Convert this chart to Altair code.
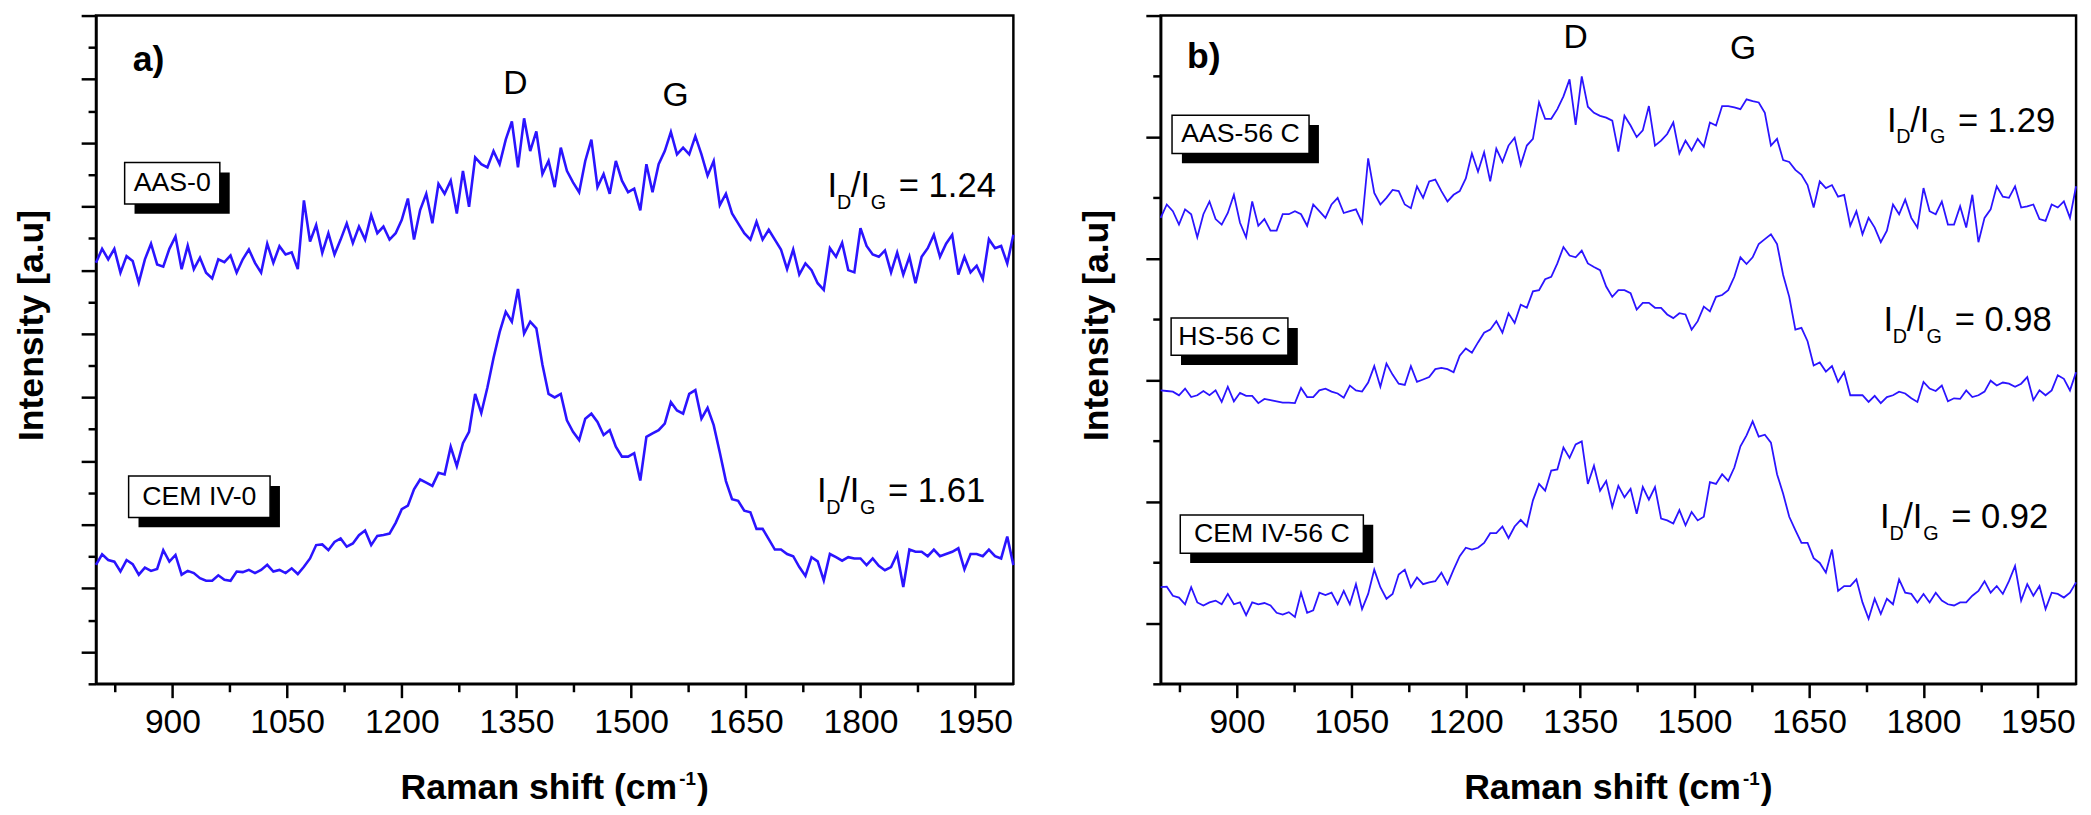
import altair as alt
import pandas as pd

BLUE = "#2b14ff"
TEXT_FONT = "Liberation Sans, Arial, sans-serif"

# Raman shift grid (cm-1) shared by all spectra
WAVENUMBER = list(range(800, 2001, 8))
X_TICKS = list(range(825, 1951, 75))

# panel a) spectra (arbitrary intensity units)
AAS_0 = [
    13.23, 13.67, 13.34, 13.67, 12.92, 13.44, 13.29, 12.61, 13.34, 13.83,
    13.18, 13.11, 13.67, 14.06, 13.03, 13.77, 13.03, 13.39, 12.92, 12.74,
    13.34, 13.25, 13.46, 12.92, 13.34, 13.65, 13.23, 12.92, 13.83, 13.23,
    13.75, 13.49, 13.56, 13.03, 15.19, 13.90, 14.42, 13.54, 14.16, 13.49,
    13.96, 14.47, 13.85, 14.37, 13.96, 14.73, 14.16, 14.37, 13.96, 14.16,
    14.58, 15.25, 13.96, 14.89, 15.40, 14.47, 15.71, 15.40, 15.81, 14.78,
    16.12, 14.99, 16.54, 16.33, 16.23, 16.74, 16.33, 17.10, 17.67, 16.23,
    17.77, 16.74, 17.36, 16.02, 16.43, 15.61, 16.85, 16.12, 15.76, 15.45,
    16.43, 17.10, 15.61, 16.02, 15.40, 16.43, 15.81, 15.45, 15.56, 14.88,
    16.33, 15.45, 16.33, 16.74, 17.34, 16.64, 16.85, 16.64, 17.21, 16.64,
    15.97, 16.43, 15.04, 15.40, 14.78, 14.47, 14.16, 13.96, 14.52, 13.96,
    14.27, 13.96, 13.65, 13.03, 13.65, 12.86, 13.21, 13.00, 12.59, 12.38,
    13.69, 13.42, 13.86, 13.00, 12.93, 14.32, 13.76, 13.49, 13.42, 13.62,
    12.93, 13.55, 12.86, 13.42, 12.59, 13.42, 13.69, 14.11, 13.42, 13.83,
    14.11, 12.86, 13.42, 12.93, 13.14, 12.72, 13.97, 13.69, 13.76, 13.21,
    14.11,
]
CEM_IV_0 = [
    3.74, 4.07, 3.89, 3.84, 3.53, 3.89, 3.76, 3.43, 3.65, 3.55,
    3.61, 4.20, 3.84, 4.05, 3.43, 3.55, 3.48, 3.32, 3.24, 3.24,
    3.41, 3.27, 3.24, 3.53, 3.51, 3.58, 3.48, 3.58, 3.74, 3.53,
    3.58, 3.48, 3.63, 3.45, 3.68, 3.94, 4.36, 4.38, 4.20, 4.46,
    4.57, 4.31, 4.41, 4.67, 4.82, 4.36, 4.65, 4.68, 4.72, 5.06,
    5.49, 5.60, 6.11, 6.42, 6.32, 6.22, 6.63, 6.58, 7.45, 6.84,
    7.56, 7.92, 9.11, 8.51, 9.31, 10.24, 11.05, 11.69, 11.38, 12.41,
    11.01, 11.38, 11.17, 10.03, 9.11, 9.00, 9.11, 8.28, 7.92, 7.66,
    8.33, 8.49, 8.23, 7.82, 7.97, 7.45, 7.14, 7.14, 7.25, 6.39,
    7.76, 7.87, 7.97, 8.18, 8.85, 8.59, 8.49, 9.11, 9.23, 8.33,
    8.67, 8.13, 7.27, 6.37, 5.80, 5.75, 5.44, 5.39, 4.87, 4.87,
    4.55, 4.22, 4.22, 4.08, 4.01, 3.67, 3.39, 3.98, 3.85, 3.25,
    4.08, 3.98, 3.87, 3.98, 3.94, 3.94, 3.73, 3.94, 3.71, 3.57,
    3.67, 4.08, 3.04, 4.22, 4.15, 4.15, 4.01, 4.22, 4.01, 4.08,
    4.15, 4.26, 3.60, 4.08, 4.08, 4.01, 4.22, 4.01, 3.94, 4.63,
    3.73,
]

# panel b) spectra
AAS_56C = [
    7.67, 7.89, 7.78, 7.56, 7.81, 7.73, 7.35, 7.73, 7.94, 7.65,
    7.56, 7.75, 8.05, 7.59, 7.35, 7.94, 7.54, 7.65, 7.46, 7.46,
    7.73, 7.73, 7.78, 7.73, 7.54, 7.89, 7.78, 7.67, 7.89, 8.00,
    7.75, 7.78, 7.81, 7.59, 8.65, 8.08, 7.89, 8.00, 8.13, 8.11,
    7.89, 7.83, 8.19, 8.00, 8.27, 8.30, 8.11, 7.94, 8.05, 8.11,
    8.32, 8.73, 8.43, 8.75, 8.27, 8.81, 8.59, 8.86, 8.99, 8.54,
    8.86, 8.97, 9.57, 9.30, 9.30, 9.46, 9.67, 9.95, 9.20, 10.00,
    9.50, 9.40, 9.35, 9.32, 9.27, 8.76, 9.35, 9.19, 9.00, 9.11,
    9.51, 8.86, 8.94, 9.05, 9.24, 8.73, 8.94, 8.78, 8.97, 8.84,
    9.24, 9.19, 9.51, 9.51, 9.49, 9.46, 9.62, 9.59, 9.57, 9.40,
    8.86, 8.97, 8.62, 8.59, 8.46, 8.38, 8.21, 7.84, 8.27, 8.16,
    8.21, 8.02, 8.05, 7.54, 7.78, 7.40, 7.67, 7.51, 7.27, 7.46,
    7.89, 7.73, 7.97, 7.67, 7.51, 8.16, 7.78, 7.73, 7.94, 7.56,
    7.56, 7.86, 7.51, 8.05, 7.27, 7.67, 7.81, 8.19, 8.02, 8.00,
    8.19, 7.84, 7.86, 7.89, 7.65, 7.62, 7.89, 7.84, 7.94, 7.67,
    8.19,
]
HS_56C = [
    4.83, 4.82, 4.81, 4.75, 4.86, 4.72, 4.75, 4.82, 4.75, 4.83,
    4.64, 4.89, 4.65, 4.79, 4.74, 4.74, 4.62, 4.69, 4.67, 4.65,
    4.63, 4.63, 4.62, 4.87, 4.72, 4.72, 4.83, 4.86, 4.81, 4.78,
    4.71, 4.91, 4.83, 4.81, 4.96, 5.23, 4.89, 5.27, 5.09, 4.94,
    4.92, 5.23, 4.97, 5.01, 5.05, 5.18, 5.20, 5.18, 5.13, 5.40,
    5.52, 5.45, 5.62, 5.78, 5.83, 5.97, 5.78, 6.10, 5.94, 6.24,
    6.19, 6.46, 6.48, 6.66, 6.70, 6.92, 7.19, 7.05, 7.02, 7.13,
    6.92, 6.86, 6.81, 6.54, 6.37, 6.48, 6.48, 6.43, 6.16, 6.27,
    6.27, 6.19, 6.19, 6.08, 6.02, 6.10, 6.08, 5.83, 5.97, 6.21,
    6.13, 6.37, 6.40, 6.48, 6.70, 7.02, 6.91, 7.02, 7.24, 7.32,
    7.40, 7.24, 6.73, 6.37, 5.83, 5.86, 5.64, 5.24, 5.29, 5.14,
    5.23, 4.97, 5.13, 4.75, 4.75, 4.75, 4.64, 4.74, 4.62, 4.72,
    4.75, 4.81, 4.78, 4.70, 4.64, 4.97, 4.86, 4.82, 4.91, 4.65,
    4.70, 4.69, 4.83, 4.72, 4.75, 4.81, 4.99, 4.91, 4.96, 4.94,
    4.89, 4.94, 5.05, 4.67, 4.83, 4.75, 4.83, 5.08, 5.02, 4.83,
    5.13,
]
CEM_IV_56C = [
    1.59, 1.60, 1.45, 1.42, 1.31, 1.59, 1.34, 1.29, 1.34, 1.37,
    1.31, 1.48, 1.31, 1.34, 1.13, 1.34, 1.31, 1.33, 1.29, 1.17,
    1.14, 1.18, 1.10, 1.50, 1.17, 1.21, 1.50, 1.46, 1.50, 1.31,
    1.53, 1.31, 1.64, 1.23, 1.48, 1.88, 1.59, 1.40, 1.48, 1.80,
    1.88, 1.59, 1.75, 1.64, 1.67, 1.69, 1.83, 1.64, 1.88, 2.10,
    2.24, 2.21, 2.24, 2.32, 2.48, 2.48, 2.59, 2.40, 2.59, 2.70,
    2.59, 3.02, 3.29, 3.18, 3.51, 3.53, 3.89, 3.72, 3.94, 3.99,
    3.29, 3.59, 3.18, 3.34, 2.91, 3.26, 3.07, 3.21, 2.80, 3.24,
    3.03, 3.24, 2.72, 2.69, 2.64, 2.86, 2.61, 2.83, 2.69, 2.75,
    3.32, 3.29, 3.45, 3.34, 3.56, 3.91, 4.09, 4.32, 4.07, 4.10,
    3.97, 3.45, 3.13, 2.75, 2.53, 2.32, 2.32, 2.07, 1.99, 1.83,
    2.21, 1.53, 1.61, 1.61, 1.72, 1.34, 1.07, 1.40, 1.15, 1.40,
    1.31, 1.72, 1.50, 1.48, 1.34, 1.48, 1.34, 1.50, 1.37, 1.31,
    1.29, 1.34, 1.34, 1.45, 1.53, 1.69, 1.50, 1.61, 1.48, 1.69,
    1.94, 1.37, 1.64, 1.45, 1.61, 1.23, 1.50, 1.48, 1.42, 1.50,
    1.67,
]

# sample tags (boxed labels) and where they sit
LABELS_A = ["AAS-0", "CEM IV-0"]
LABEL_BOX_A = {"shift": [837.5, 842.7], "shift2": [962.0, 1027.7],
               "intensity": [15.08, 5.23], "intensity2": [16.38, 6.53]}
LABELS_B = ["AAS-56 C", "HS-56 C", "CEM IV-56 C"]
LABEL_BOX_B = {"shift": [814.9, 813.7, 825.7], "shift2": [994.5, 966.8, 1065.7],
               "intensity": [8.73, 5.41, 2.15], "intensity2": [9.36, 6.02, 2.78]}

# ID/IG ratios
RATIOS_A = ["1.24", "1.61"]
RATIO_POS_A = {"shift": [1757, 1743], "intensity": [15.29, 5.70]}
RATIOS_B = ["1.29", "0.98", "0.92"]
RATIO_POS_B = {"shift": [1752, 1747.5, 1743], "intensity": [9.09, 5.81, 2.56]}

# D and G band markers
BANDS = ["D", "G"]
BAND_POS_A = {"shift": [1348.5, 1558], "intensity": [18.55, 18.17]}
BAND_POS_B = {"shift": [1344, 1563.4], "intensity": [10.46, 10.28]}

# x title, split so the exponent can be raised
X_TITLE = ["Raman shift (cm", "-1", ")"]


def spectra_frame(series):
    rows = []
    for name, values in series.items():
        assert len(values) == len(WAVENUMBER), name
        for shift, value in zip(WAVENUMBER, values):
            rows.append({"shift": shift, "intensity": value, "sample": name})
    return pd.DataFrame(rows)


def one_text(text):
    return alt.Chart(pd.DataFrame({"t": [text]}))


def panel(series, top, labels, boxes, ratios, ratio_pos, band_pos, letter, letter_pos, line_width, width):
    height = 676
    x_scale = alt.Scale(domain=[800, 2000], nice=False, zero=False)
    y_scale = alt.Scale(domain=[0, top], nice=False, zero=False)

    x_axis = alt.Axis(
        values=X_TICKS, format="d", title=None,
        labelExpr="datum.value % 150 == 0 ? '' + datum.value : ''",
        tickSize={"condition": {"test": "datum.value % 150 == 0", "value": 14}, "value": 8},
        labelFont=TEXT_FONT, labelFontSize=34, labelColor="black", labelPadding=8,
        labelOverlap=False, labelFlush=False,
        grid=False, domainColor="black", domainWidth=2.5,
        tickColor="black", tickWidth=2.5,
    )
    y_axis = alt.Axis(
        values=list(range(0, top + 1)), labels=False, title="Intensity [a.u]",
        tickSize={"condition": {"test": "datum.value % 2 == 1", "value": 15}, "value": 8},
        titleFont=TEXT_FONT, titleFontSize=36, titleFontWeight="bold", titleColor="black",
        titlePadding=30, titleY=313, grid=False, domainColor="black", domainWidth=2.5,
        tickColor="black", tickWidth=2.5,
    )
    x_enc = alt.X("shift:Q", scale=x_scale, axis=x_axis)
    y_enc = alt.Y("intensity:Q", scale=y_scale, axis=y_axis)

    lines = alt.Chart(spectra_frame(series)).mark_line(
        color=BLUE, strokeWidth=line_width
    ).encode(x=x_enc, y=y_enc, detail="sample:N")

    box_df = pd.DataFrame({"label": labels, **boxes})
    shadow = alt.Chart(box_df).mark_rect(
        color="black", xOffset=10, x2Offset=10, yOffset=10, y2Offset=10
    ).encode(x=x_enc, x2="shift2:Q", y=y_enc, y2="intensity2:Q")
    face = alt.Chart(box_df).mark_rect(
        fill="white", stroke="black", strokeWidth=1.5
    ).encode(x=x_enc, x2="shift2:Q", y=y_enc, y2="intensity2:Q")
    tag = alt.Chart(box_df).transform_calculate(
        cx="(datum.shift + datum.shift2) / 2", cy="(datum.intensity + datum.intensity2) / 2"
    ).mark_text(font=TEXT_FONT, fontSize=27, color="black", baseline="middle").encode(
        x=alt.X("cx:Q", scale=x_scale, axis=x_axis),
        y=alt.Y("cy:Q", scale=y_scale, axis=y_axis),
        text="label:N",
    )

    ratio_df = pd.DataFrame({"value": ratios, **ratio_pos})
    text_style = dict(font=TEXT_FONT, color="black", align="left", baseline="alphabetic")
    ratio_layers = [
        alt.Chart(ratio_df).mark_text(text="I", fontSize=35, **text_style).encode(x=x_enc, y=y_enc),
        alt.Chart(ratio_df).mark_text(text="D", fontSize=20, dx=9.5, dy=12, **text_style).encode(x=x_enc, y=y_enc),
        alt.Chart(ratio_df).mark_text(text="/I", fontSize=35, dx=23.5, **text_style).encode(x=x_enc, y=y_enc),
        alt.Chart(ratio_df).mark_text(text="G", fontSize=20, dx=43.6, dy=12, **text_style).encode(x=x_enc, y=y_enc),
        alt.Chart(ratio_df).transform_calculate(t="'= ' + datum.value").mark_text(
            fontSize=35, dx=72, **text_style
        ).encode(x=x_enc, y=y_enc, text="t:N"),
    ]

    band_df = pd.DataFrame({"band": BANDS, **band_pos})
    bands = alt.Chart(band_df).mark_text(
        font=TEXT_FONT, fontSize=34, color="black", baseline="alphabetic"
    ).encode(x=x_enc, y=y_enc, text="band:N")

    letter_df = pd.DataFrame({"letter": [letter], "shift": [letter_pos[0]], "intensity": [letter_pos[1]]})
    letter_mark = alt.Chart(letter_df).mark_text(
        font=TEXT_FONT, fontSize=36, fontWeight="bold", color="black",
        align="left", baseline="alphabetic",
    ).encode(x=x_enc, y=y_enc, text="letter:N")

    # x axis title with a raised exponent
    center = width / 2
    title_style = dict(font=TEXT_FONT, fontWeight="bold", color="black", baseline="alphabetic")
    x_title = [
        one_text(X_TITLE[0]).mark_text(fontSize=36, align="right", **title_style).encode(
            x=alt.value(center + 124), y=alt.value(height + 116), text="t:N"),
        one_text(X_TITLE[1]).mark_text(fontSize=19, align="left", **title_style).encode(
            x=alt.value(center + 126), y=alt.value(height + 102), text="t:N"),
        one_text(X_TITLE[2]).mark_text(fontSize=36, align="left", **title_style).encode(
            x=alt.value(center + 144), y=alt.value(height + 116), text="t:N"),
    ]

    return alt.layer(
        lines, shadow, face, tag, *ratio_layers, bands, letter_mark, *x_title
    ).properties(width=width, height=height)


panel_a = panel(
    {"AAS-0": AAS_0, "CEM IV-0": CEM_IV_0}, 21, LABELS_A, LABEL_BOX_A,
    RATIOS_A, RATIO_POS_A, BAND_POS_A, "a)", (848, 19.27), 2.6, 928,
)
panel_b = panel(
    {"AAS-56 C": AAS_56C, "HS-56 C": HS_56C, "CEM IV-56 C": CEM_IV_56C}, 11, LABELS_B, LABEL_BOX_B,
    RATIOS_B, RATIO_POS_B, BAND_POS_B, "b)", (834.5, 10.13), 1.8, 926,
)

chart = (
    alt.hconcat(panel_a, panel_b, spacing=57)
    .properties(padding={"left": 4, "top": 0, "right": 2, "bottom": 0})
    .configure_view(stroke="black", strokeWidth=2.5)
)

chart.save("out.html", embed_options={"renderer": "svg", "actions": False})
